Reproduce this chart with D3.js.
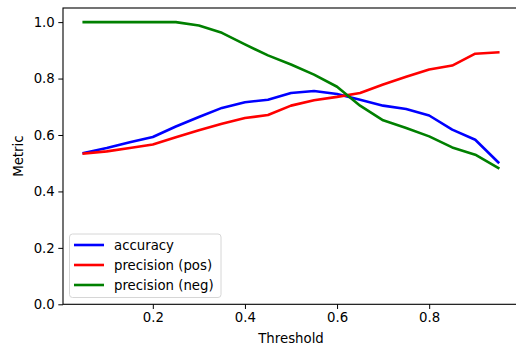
<!DOCTYPE html>
<html><head><meta charset="utf-8">
<script src="https://cdn.jsdelivr.net/npm/d3@7"></script>
<style>body{margin:0;background:#fff}svg{display:block}text{font-family:"DejaVu Sans",sans-serif;fill:#000}</style>
</head><body><svg id="c" width="516" height="349"></svg>
<script>
const thresholds = [0.05,0.10,0.15,0.20,0.25,0.30,0.35,0.40,0.45,0.50,0.55,0.60,0.65,0.70,0.75,0.80,0.85,0.90,0.95];
const accuracy = [0.536,0.554,0.574,0.593,0.630,0.664,0.696,0.716,0.725,0.749,0.756,0.745,0.725,0.704,0.692,0.669,0.619,0.583,0.503];
const precisionPos = [0.534,0.542,0.554,0.566,0.592,0.617,0.640,0.660,0.671,0.704,0.723,0.735,0.749,0.779,0.806,0.832,0.846,0.888,0.893];
const precisionNeg = [1.0,1.0,1.0,1.0,1.0,0.988,0.962,0.921,0.882,0.850,0.814,0.771,0.704,0.652,0.625,0.595,0.556,0.530,0.483];
const xTicks = [0.2,0.4,0.6,0.8];
const yTicks = [0.0,0.2,0.4,0.6,0.8,1.0];
const seriesNames = ["accuracy","precision (pos)","precision (neg)"];
const seriesColors = ["#0000ff","#ff0000","#008000"];

const svg = d3.select("#c");
const L=63, R=519, T=8, B=304.3;
const x = d3.scaleLinear().domain([0.005,0.995]).range([L,R]);
const y = d3.scaleLinear().domain([0,1.05]).range([B,T]);
const fs = 13.3;

const series = [accuracy, precisionPos, precisionNeg];
const line = d3.line().x((d,i)=>x(thresholds[i])).y(d=>y(d));
series.forEach((s,k)=>{
  svg.append("path").attr("d",line(s)).attr("fill","none")
    .attr("stroke",seriesColors[k]).attr("stroke-width",2.6)
    .attr("stroke-linejoin","round").attr("stroke-linecap","square");
});

// axes
const xa = svg.append("g").attr("transform",`translate(0,${B})`)
  .call(d3.axisBottom(x).tickValues(xTicks).tickFormat(d3.format(".1f")).tickSizeInner(4.7).tickSizeOuter(0).tickPadding(3.5));
const ya = svg.append("g").attr("transform",`translate(${L},0)`)
  .call(d3.axisLeft(y).tickValues(yTicks).tickFormat(d3.format(".1f")).tickSizeInner(4.7).tickSizeOuter(0).tickPadding(3.5));
[xa,ya].forEach(a=>{
  a.selectAll("text").attr("font-size",fs).attr("font-family","DejaVu Sans").attr("fill","#000");
  a.selectAll("line").attr("stroke","#000").attr("stroke-width",1);
  a.select(".domain").remove();
});
// spines
svg.append("rect").attr("x",L).attr("y",T).attr("width",R-L).attr("height",B-T)
  .attr("fill","none").attr("stroke","#000").attr("stroke-width",1.1);

svg.append("text").attr("x",(L+R)/2).attr("y",343).attr("text-anchor","middle").attr("font-size",fs).text("Threshold");
svg.append("text").attr("transform",`translate(23,${(T+B)/2}) rotate(-90)`).attr("text-anchor","middle").attr("font-size",fs).text("Metric");

// legend
const lg = svg.append("g");
lg.append("rect").attr("x",69.5).attr("y",234).attr("width",151.5).attr("height",63.5).attr("rx",3)
  .attr("fill","#fff").attr("fill-opacity",0.8).attr("stroke","#d6d6d6").attr("stroke-width",1);
seriesNames.forEach((n,k)=>{
  const yy = 245 + k*20;
  lg.append("line").attr("x1",74).attr("x2",104).attr("y1",yy).attr("y2",yy)
    .attr("stroke",seriesColors[k]).attr("stroke-width",2.6);
  lg.append("text").attr("x",114).attr("y",yy+4.8).attr("font-size",fs).text(n);
});
</script></body></html>
